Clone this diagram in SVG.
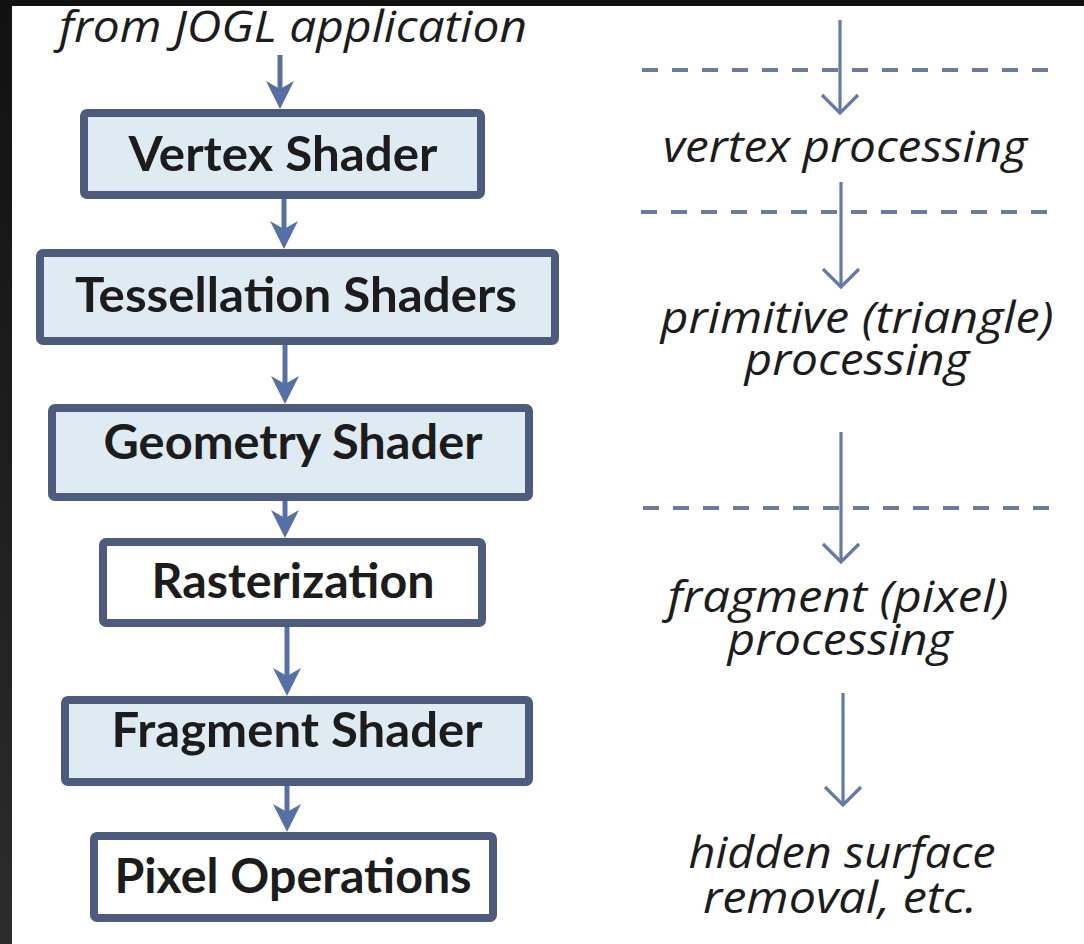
<svg xmlns="http://www.w3.org/2000/svg" width="1084" height="944" viewBox="0 0 1084 944">
<defs>
<linearGradient id="edge" x1="0" y1="0" x2="0" y2="1">
<stop offset="0" stop-color="#111111"/>
<stop offset="1" stop-color="#2c2c2c"/>
</linearGradient>
<marker id="solid" markerUnits="userSpaceOnUse" viewBox="-14 -15 32 30" markerWidth="32" markerHeight="30" refX="0" refY="0" orient="auto">
<path d="M15,0 L-13,-14 L-5,0 L-13,14 Z" fill="#5670a6"/>
</marker>
<marker id="open" markerUnits="userSpaceOnUse" viewBox="-22 -22 26 44" markerWidth="26" markerHeight="44" refX="0" refY="0" orient="auto">
<path d="M-18,-18 L0,0 L-18,18" fill="none" stroke="#6479a8" stroke-width="3.2"/>
</marker>
</defs>
<style>
.box{stroke:#4d5b7c;stroke-width:8;}
.blue{fill:#dfebf2;}
.white{fill:#ffffff;}
.lbl{font-family:Lato,"Open Sans","Liberation Sans",sans-serif;font-weight:bold;font-size:47px;fill:#1c1c1c;text-anchor:middle;}
.it{font-family:"Open Sans","Liberation Sans",sans-serif;font-style:italic;font-size:44px;fill:#1c1c1c;text-anchor:middle;}
.flow{stroke:#5670a6;stroke-width:5;fill:none;}
.thin{stroke:#6479a8;stroke-width:3.2;fill:none;}
.dash{stroke:#6a7aa0;stroke-width:4;stroke-dasharray:16 14;fill:none;}
</style>
<rect x="0" y="0" width="1084" height="944" fill="#ffffff"/>
<rect x="0" y="0" width="1084" height="6" fill="#111111"/>
<rect x="0" y="0" width="12" height="944" fill="url(#edge)"/>

<g id="connectors">
<line class="flow" x1="280" y1="55" x2="280" y2="94" marker-end="url(#solid)"/>
<line class="flow" x1="284" y1="199" x2="284" y2="234" marker-end="url(#solid)"/>
<line class="flow" x1="285" y1="345" x2="285" y2="389" marker-end="url(#solid)"/>
<line class="flow" x1="285" y1="501" x2="285" y2="523" marker-end="url(#solid)"/>
<line class="flow" x1="287" y1="627" x2="287" y2="681" marker-end="url(#solid)"/>
<line class="flow" x1="287" y1="786" x2="287" y2="817" marker-end="url(#solid)"/>

<line class="thin" x1="840" y1="20" x2="840" y2="113" marker-end="url(#open)"/>
<line class="thin" x1="841" y1="182" x2="841" y2="287" marker-end="url(#open)"/>
<line class="thin" x1="841" y1="432" x2="841" y2="562" marker-end="url(#open)"/>
<line class="thin" x1="843" y1="693" x2="843" y2="805" marker-end="url(#open)"/>

<line class="dash" x1="642" y1="70" x2="1054" y2="70"/>
<line class="dash" x1="641" y1="212" x2="1054" y2="212"/>
<line class="dash" x1="643" y1="508" x2="1054" y2="508"/>
</g>

<text class="it" x="293" y="42" textLength="468" lengthAdjust="spacingAndGlyphs">from JOGL application</text>

<g id="vertex-shader">
<rect class="box blue" x="84" y="113" width="397" height="82" rx="3"/>
<text class="lbl" x="283" y="171" textLength="309" lengthAdjust="spacingAndGlyphs">Vertex Shader</text>
</g>
<g id="tessellation-shaders">
<rect class="box blue" x="40" y="253" width="515" height="88" rx="3"/>
<text class="lbl" x="296" y="312" textLength="442" lengthAdjust="spacingAndGlyphs">Tessellation Shaders</text>
</g>
<g id="geometry-shader">
<rect class="box blue" x="52" y="408" width="477" height="89" rx="3"/>
<text class="lbl" x="293" y="459" textLength="379" lengthAdjust="spacingAndGlyphs">Geometry Shader</text>
</g>
<g id="rasterization">
<rect class="box white" x="103" y="542" width="379" height="81" rx="3"/>
<text class="lbl" x="293" y="598" textLength="283" lengthAdjust="spacingAndGlyphs">Rasterization</text>
</g>
<g id="fragment-shader">
<rect class="box blue" x="65" y="700" width="464" height="82" rx="3"/>
<text class="lbl" x="297" y="747" textLength="371" lengthAdjust="spacingAndGlyphs">Fragment Shader</text>
</g>
<g id="pixel-operations">
<rect class="box white" x="94" y="836" width="399" height="82" rx="3"/>
<text class="lbl" x="293" y="893" textLength="357" lengthAdjust="spacingAndGlyphs">Pixel Operations</text>
</g>

<g id="stage-labels">
<text class="it" x="845" y="162" textLength="364" lengthAdjust="spacingAndGlyphs">vertex processing</text>
<text class="it" x="857" y="333" textLength="393" lengthAdjust="spacingAndGlyphs">primitive (triangle)</text>
<text class="it" x="857" y="375" textLength="225" lengthAdjust="spacingAndGlyphs">processing</text>
<text class="it" x="838" y="612" textLength="341" lengthAdjust="spacingAndGlyphs">fragment (pixel)</text>
<text class="it" x="840" y="655" textLength="225" lengthAdjust="spacingAndGlyphs">processing</text>
<text class="it" x="842" y="868" textLength="307" lengthAdjust="spacingAndGlyphs">hidden surface</text>
<text class="it" x="840" y="913" textLength="274" lengthAdjust="spacingAndGlyphs">removal, etc.</text>
</g>
</svg>
